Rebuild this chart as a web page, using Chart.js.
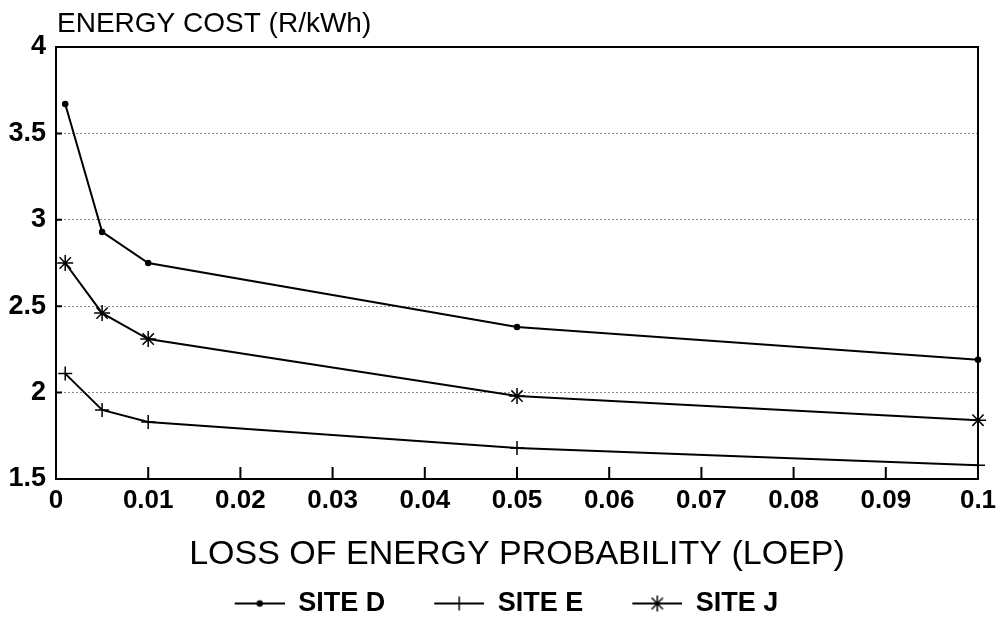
<!DOCTYPE html>
<html>
<head>
<meta charset="utf-8">
<title>Energy cost vs LOEP</title>
<script src="https://cdn.jsdelivr.net/npm/chart.js@4/dist/chart.umd.min.js"></script>
<style>
    html, body { margin: 0; padding: 0; background: #ffffff; }
    #chart_container { width: 999px; height: 639px; position: relative; }
</style>
</head>
<body>
<div id="chart_container">
    <canvas id="LOEP_Chart"></canvas>
</div>
<script>
//--------------------------------------------------------------------------------------// 
//--------------------------------------- Data -----------------------------------------//
//--------------------------------------------------------------------------------------//
var loepValues = [0.001, 0.005, 0.01, 0.05, 0.1];
var siteD = [3.67, 2.93, 2.75, 2.38, 2.19];
var siteE = [2.11, 1.90, 1.83, 1.68, 1.58];
var siteJ = [2.75, 2.46, 2.31, 1.98, 1.84];
var seriesNames = ['SITE D', 'SITE E', 'SITE J'];
var yTitle = 'ENERGY COST (R/kWh)';
var xTitle = 'LOSS OF ENERGY PROBABILITY (LOEP)';

var FONT = '"Liberation Sans", Arial, Helvetica, sans-serif';

function toPoints(values) {
    return loepValues.map(function (x, i) {
        return { x: x, y: values[i] };
    });
}

// ----* small line + marker picture used as legend symbol *---- //
function legendSymbol(style, radius) {
    var c = document.createElement('canvas');
    c.width = 64;
    c.height = 20;
    var ctx = c.getContext('2d');
    ctx.strokeStyle = '#000';
    ctx.fillStyle = '#000';
    ctx.lineWidth = 2;
    ctx.beginPath();
    ctx.moveTo(14, 10);
    ctx.lineTo(64, 10);
    ctx.stroke();
    ctx.lineWidth = 1.5;
    Chart.helpers.drawPoint(ctx, { pointStyle: style, radius: radius, borderWidth: 1.5 }, 39, 10);
    return c;
}

//--------------------------------------------------------------------------------------// 
//-------------------------------------- Plugins ---------------------------------------//
//--------------------------------------------------------------------------------------//
var framePlugin = {
    id: 'framePlugin',
    afterDraw: function (chart) {
        var ctx = chart.ctx;
        var area = chart.chartArea;
        var xs = chart.scales.x;
        var ys = chart.scales.y;
        ctx.save();
        ctx.strokeStyle = '#000';
        ctx.lineWidth = 2;
        ctx.strokeRect(area.left, area.top, area.right - area.left, area.bottom - area.top);
        // inner tick marks
        ctx.beginPath();
        xs.ticks.forEach(function (t, i) {
            var px = xs.getPixelForTick(i);
            ctx.moveTo(px, area.bottom);
            ctx.lineTo(px, area.bottom - 12);
        });
        ys.ticks.forEach(function (t, i) {
            var py = ys.getPixelForTick(i);
            ctx.moveTo(area.left, py);
            ctx.lineTo(area.left + 6, py);
        });
        ctx.stroke();
        // y axis title above the frame
        ctx.fillStyle = '#000';
        ctx.font = '28px ' + FONT;
        ctx.textAlign = 'left';
        ctx.textBaseline = 'middle';
        ctx.fillText(yTitle, area.left + 1, area.top - 23);
        ctx.restore();
    }
};

//--------------------------------------------------------------------------------------// 
//--------------------------------------- Chart ----------------------------------------//
//--------------------------------------------------------------------------------------//
var markerStyles = [['circle', 2.5], ['cross', 7], ['star', 8]];
var seriesValues = [siteD, siteE, siteJ];

var datasets = seriesNames.map(function (name, i) {
    return {
        label: name,
        data: toPoints(seriesValues[i]),
        borderColor: '#000',
        backgroundColor: '#000',
        borderWidth: 2,
        tension: 0,
        pointStyle: markerStyles[i][0],
        pointRadius: markerStyles[i][1],
        pointBorderWidth: 1.5,
        pointBorderColor: '#000',
        pointBackgroundColor: '#000',
        clip: false
    };
});

var config = {
    type: 'line',
    data: { datasets: datasets },
    options: {
        responsive: true,
        maintainAspectRatio: false,
        devicePixelRatio: 1,
        animation: false,
        layout: {
            padding: { top: 47, right: 0, bottom: 12, left: 0 }
        },
        scales: {
            x: {
                type: 'linear',
                min: 0,
                max: 0.1,
                border: { display: false },
                grid: { display: false, drawTicks: false },
                ticks: {
                    stepSize: 0.01,
                    padding: 6,
                    color: '#000',
                    font: { family: FONT, size: 26, weight: 'bold' },
                    callback: function (v) { return String(+v.toFixed(2)); }
                },
                title: {
                    display: true,
                    text: xTitle,
                    color: '#000',
                    font: { family: FONT, size: 34 },
                    padding: { top: 0, bottom: -20 }
                },
                afterFit: function (scale) {
                    scale.height = 76;
                    scale.paddingRight = 21;
                }
            },
            y: {
                min: 1.5,
                max: 4,
                border: { display: false, dash: [2, 2] },
                grid: {
                    drawTicks: false,
                    color: '#8a8a8a',
                    lineWidth: 1
                },
                ticks: {
                    stepSize: 0.5,
                    padding: 10,
                    color: '#000',
                    font: { family: FONT, size: 27, weight: 'bold' },
                    callback: function (v) { return String(+v.toFixed(1)); }
                },
                afterFit: function (scale) { scale.width = 56; }
            }
        },
        plugins: {
            tooltip: { enabled: false },
            legend: {
                position: 'bottom',
                labels: {
                    usePointStyle: true,
                    pointStyleWidth: 64,
                    padding: 35,
                    color: '#000',
                    font: { family: FONT, size: 27, weight: 'bold' },
                    generateLabels: function (chart) {
                        return chart.data.datasets.map(function (ds, i) {
                            return {
                                text: ds.label,
                                pointStyle: legendSymbol(markerStyles[i][0], markerStyles[i][1]),
                                fillStyle: '#000',
                                strokeStyle: '#000',
                                lineWidth: 0,
                                fontColor: '#000',
                                hidden: false,
                                datasetIndex: i
                            };
                        });
                    }
                }
            }
        }
    },
    plugins: [framePlugin]
};

var LOEP_Chart = new Chart(document.getElementById('LOEP_Chart'), config);
</script>
</body>
</html>
